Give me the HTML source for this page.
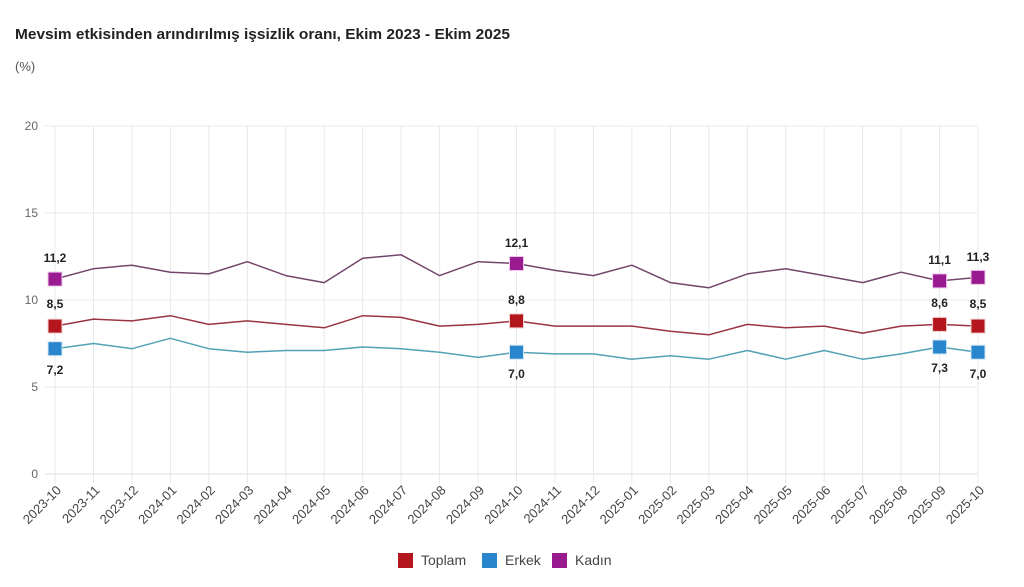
<!DOCTYPE html>
<html><head><meta charset="utf-8"><style>
html,body{margin:0;padding:0;background:#fff;}
svg{display:block;font-family:"Liberation Sans",sans-serif;}
</style></head><body>
<svg width="1024" height="587" viewBox="0 0 1024 587" xmlns="http://www.w3.org/2000/svg">
<rect width="1024" height="587" fill="#fff"/>
<text x="15" y="39" font-size="15" font-weight="bold" fill="#222" textLength="495" lengthAdjust="spacingAndGlyphs">Mevsim etkisinden arındırılmış işsizlik oranı, Ekim 2023 - Ekim 2025</text>
<text x="15" y="71" font-size="13" fill="#555">(%)</text>
<g stroke="#e8e8ec" stroke-width="1">
<line x1="45" y1="126" x2="978" y2="126"/>
<line x1="45" y1="213" x2="978" y2="213"/>
<line x1="45" y1="300" x2="978" y2="300"/>
<line x1="45" y1="387" x2="978" y2="387"/>
<line x1="45" y1="474" x2="978" y2="474" stroke="#dcdce4"/>
<line x1="55" y1="126" x2="55" y2="483"/><line x1="93.5" y1="126" x2="93.5" y2="483"/><line x1="131.9" y1="126" x2="131.9" y2="483"/><line x1="170.4" y1="126" x2="170.4" y2="483"/><line x1="208.8" y1="126" x2="208.8" y2="483"/><line x1="247.3" y1="126" x2="247.3" y2="483"/><line x1="285.8" y1="126" x2="285.8" y2="483"/><line x1="324.2" y1="126" x2="324.2" y2="483"/><line x1="362.7" y1="126" x2="362.7" y2="483"/><line x1="401.1" y1="126" x2="401.1" y2="483"/><line x1="439.6" y1="126" x2="439.6" y2="483"/><line x1="478.1" y1="126" x2="478.1" y2="483"/><line x1="516.5" y1="126" x2="516.5" y2="483"/><line x1="555" y1="126" x2="555" y2="483"/><line x1="593.4" y1="126" x2="593.4" y2="483"/><line x1="631.9" y1="126" x2="631.9" y2="483"/><line x1="670.4" y1="126" x2="670.4" y2="483"/><line x1="708.8" y1="126" x2="708.8" y2="483"/><line x1="747.3" y1="126" x2="747.3" y2="483"/><line x1="785.7" y1="126" x2="785.7" y2="483"/><line x1="824.2" y1="126" x2="824.2" y2="483"/><line x1="862.7" y1="126" x2="862.7" y2="483"/><line x1="901.1" y1="126" x2="901.1" y2="483"/><line x1="939.6" y1="126" x2="939.6" y2="483"/><line x1="978" y1="126" x2="978" y2="483"/>
</g>
<g font-size="12" fill="#666" text-anchor="end">
<text x="38" y="130">20</text>
<text x="38" y="217">15</text>
<text x="38" y="304">10</text>
<text x="38" y="391">5</text>
<text x="38" y="478">0</text>
</g>
<g font-size="13" fill="#444" text-anchor="end">
<text transform="translate(62,491) rotate(-45)">2023-10</text>
<text transform="translate(100.5,491) rotate(-45)">2023-11</text>
<text transform="translate(138.9,491) rotate(-45)">2023-12</text>
<text transform="translate(177.4,491) rotate(-45)">2024-01</text>
<text transform="translate(215.8,491) rotate(-45)">2024-02</text>
<text transform="translate(254.3,491) rotate(-45)">2024-03</text>
<text transform="translate(292.8,491) rotate(-45)">2024-04</text>
<text transform="translate(331.2,491) rotate(-45)">2024-05</text>
<text transform="translate(369.7,491) rotate(-45)">2024-06</text>
<text transform="translate(408.1,491) rotate(-45)">2024-07</text>
<text transform="translate(446.6,491) rotate(-45)">2024-08</text>
<text transform="translate(485.1,491) rotate(-45)">2024-09</text>
<text transform="translate(523.5,491) rotate(-45)">2024-10</text>
<text transform="translate(562,491) rotate(-45)">2024-11</text>
<text transform="translate(600.4,491) rotate(-45)">2024-12</text>
<text transform="translate(638.9,491) rotate(-45)">2025-01</text>
<text transform="translate(677.4,491) rotate(-45)">2025-02</text>
<text transform="translate(715.8,491) rotate(-45)">2025-03</text>
<text transform="translate(754.3,491) rotate(-45)">2025-04</text>
<text transform="translate(792.7,491) rotate(-45)">2025-05</text>
<text transform="translate(831.2,491) rotate(-45)">2025-06</text>
<text transform="translate(869.7,491) rotate(-45)">2025-07</text>
<text transform="translate(908.1,491) rotate(-45)">2025-08</text>
<text transform="translate(946.6,491) rotate(-45)">2025-09</text>
<text transform="translate(985,491) rotate(-45)">2025-10</text>
</g>
<g fill="none" stroke-width="1.5" stroke-linejoin="round">
<polyline stroke="#9a3540" points="55,326.1 93.5,319.1 131.9,320.9 170.4,315.7 208.8,324.4 247.3,320.9 285.8,324.4 324.2,327.8 362.7,315.7 401.1,317.4 439.6,326.1 478.1,324.4 516.5,320.9 555,326.1 593.4,326.1 631.9,326.1 670.4,331.3 708.8,334.8 747.3,324.4 785.7,327.8 824.2,326.1 862.7,333.1 901.1,326.1 939.6,324.4 978,326.1"/>
<polyline stroke="#52a2b6" points="55,348.7 93.5,343.5 131.9,348.7 170.4,338.3 208.8,348.7 247.3,352.2 285.8,350.5 324.2,350.5 362.7,347.0 401.1,348.7 439.6,352.2 478.1,357.4 516.5,352.2 555,353.9 593.4,353.9 631.9,359.2 670.4,355.7 708.8,359.2 747.3,350.5 785.7,359.2 824.2,350.5 862.7,359.2 901.1,353.9 939.6,347.0 978,352.2"/>
<polyline stroke="#74456c" points="55,279.1 93.5,268.7 131.9,265.2 170.4,272.2 208.8,273.9 247.3,261.7 285.8,275.6 324.2,282.6 362.7,258.2 401.1,254.8 439.6,275.6 478.1,261.7 516.5,263.5 555,270.4 593.4,275.6 631.9,265.2 670.4,282.6 708.8,287.8 747.3,273.9 785.7,268.7 824.2,275.6 862.7,282.6 901.1,272.2 939.6,280.9 978,277.4"/>
</g>
<g stroke-width="1" stroke="#f2d0d0">
<rect x="48" y="319.1" width="14" height="14" fill="#b3161c"/>
<rect x="509.5" y="313.9" width="14" height="14" fill="#b3161c"/>
<rect x="932.6" y="317.4" width="14" height="14" fill="#b3161c"/>
<rect x="971" y="319.1" width="14" height="14" fill="#b3161c"/>
</g>
<g stroke-width="1" stroke="#cfe6f5">
<rect x="48" y="341.7" width="14" height="14" fill="#2a86cc"/>
<rect x="509.5" y="345.2" width="14" height="14" fill="#2a86cc"/>
<rect x="932.6" y="340" width="14" height="14" fill="#2a86cc"/>
<rect x="971" y="345.2" width="14" height="14" fill="#2a86cc"/>
</g>
<g stroke-width="1" stroke="#ecc8ea">
<rect x="48" y="272.1" width="14" height="14" fill="#9a1a90"/>
<rect x="509.5" y="256.5" width="14" height="14" fill="#9a1a90"/>
<rect x="932.6" y="273.9" width="14" height="14" fill="#9a1a90"/>
<rect x="971" y="270.4" width="14" height="14" fill="#9a1a90"/>
</g>
<g font-size="12" font-weight="bold" fill="#222" text-anchor="middle">
<text x="55" y="262">11,2</text>
<text x="516.5" y="247">12,1</text>
<text x="939.6" y="264">11,1</text>
<text x="978" y="261">11,3</text>
<text x="55" y="308">8,5</text>
<text x="516.5" y="304">8,8</text>
<text x="939.6" y="307">8,6</text>
<text x="978" y="308">8,5</text>
<text x="55" y="374">7,2</text>
<text x="516.5" y="378">7,0</text>
<text x="939.6" y="372">7,3</text>
<text x="978" y="378">7,0</text>
</g>
<g font-size="14" fill="#444">
<rect x="398" y="553" width="15" height="15" fill="#b3161c"/>
<text x="421" y="565">Toplam</text>
<rect x="482" y="553" width="15" height="15" fill="#2a86cc"/>
<text x="505" y="565">Erkek</text>
<rect x="552" y="553" width="15" height="15" fill="#9a1a90"/>
<text x="575" y="565">Kadın</text>
</g>
</svg>
</body></html>
